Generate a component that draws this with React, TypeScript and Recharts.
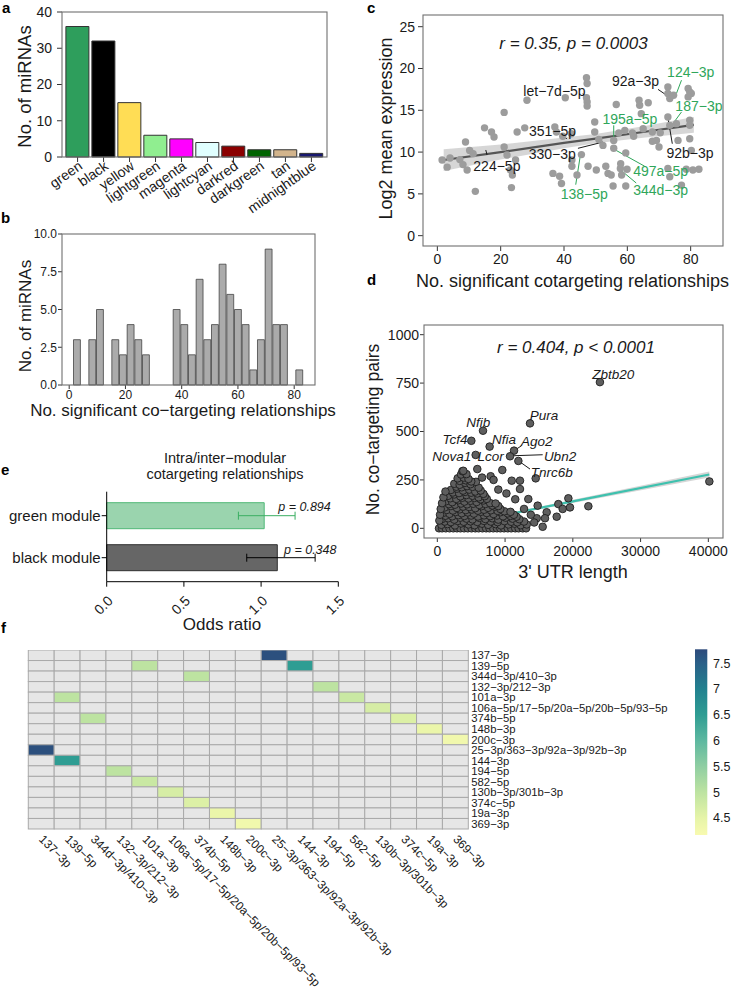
import React from "react";
import {
  BarChart,
  Bar,
  XAxis,
  YAxis,
  Cell,
  ComposedChart,
  ScatterChart,
  Scatter,
  Line,
  Area,
  ReferenceLine,
  ErrorBar,
} from "recharts";

const FONT = "'Liberation Sans', Arial, Helvetica, sans-serif";
const INK = "#1a1a1a";
const FRAME = "#707070";
const GREEN_TXT = "#2fa65a";

// ---- panel a: module sizes
const moduleNames = ["green", "black", "yellow", "lightgreen", "magenta", "lightcyan", "darkred", "darkgreen", "tan", "midnightblue"];
const moduleCounts = [36, 32, 15, 6, 5, 4, 3, 2, 2, 1];
const moduleFills = ["#2e9e5c", "#000000", "#ffdd55", "#90ee90", "#ff00ff", "#e0ffff", "#8b0000", "#006400", "#d2b48c", "#191970"];

// ---- panel b: histogram (30 bins)
const binMids = [2.89, 5.62, 8.35, 11.07, 13.8, 16.52, 19.25, 21.97, 24.7, 27.42, 30.15, 32.88, 35.6, 38.33, 41.05,
  43.78, 46.5, 49.23, 51.96, 54.68, 57.41, 60.13, 62.86, 65.58, 68.31, 71.04, 73.76, 76.49, 79.21, 81.94];
const binCounts = [3, 0, 3, 5, 0, 3, 2, 4, 3, 2, 0, 0, 0, 5, 4, 2, 7, 3, 4, 8, 6, 5, 4, 1, 3, 9, 4, 4, 0, 1];

// ---- panel c: expression vs cotargeting
const cPoints: [number, number][] = [
  [1.5, 9.05], [3.1, 8.2], [4.0, 9.3], [7.1, 9.1], [8.1, 8.5], [8.9, 11.2], [9.4, 7.85], [10.2, 10.2], [11.3, 9.8],
  [12.0, 5.3], [14.9, 12.9], [17.1, 12.4], [17.9, 11.8], [21.1, 14.75], [21.1, 10.6], [22.0, 9.65], [23.1, 7.85],
  [23.7, 7.25], [23.4, 5.75], [25.2, 12.4], [24.7, 9.05], [28.3, 16.2], [27.6, 12.9], [37.1, 13.0], [37.6, 12.4],
  [39.6, 11.9], [40.4, 16.5], [42.3, 12.2], [42.5, 9.05], [42.5, 8.3], [36.5, 7.45], [38.6, 7.1], [39.2, 6.25],
  [45.5, 9.7], [44.1, 7.25], [47.1, 18.9], [47.3, 18.2], [47.1, 16.5], [47.3, 16.0], [47.3, 15.5], [47.6, 8.3],
  [49.7, 13.6], [49.7, 12.4], [50.2, 7.85], [51.0, 11.5], [52.3, 10.8], [53.2, 8.3], [53.9, 7.45], [54.9, 7.25],
  [55.7, 11.4], [55.7, 10.45], [55.5, 5.95], [56.5, 15.7], [57.3, 12.3], [57.8, 8.05], [58.2, 7.25], [57.9, 8.6],
  [59.2, 12.6], [59.5, 5.95], [59.9, 7.95], [59.5, 9.9], [61.6, 12.3], [62.0, 11.9], [63.7, 16.2], [63.9, 15.6],
  [64.4, 14.6], [65.0, 12.8], [66.6, 15.9], [67.9, 12.4], [67.9, 11.3], [69.2, 11.4], [70.0, 10.6], [70.4, 12.3],
  [72.8, 17.8], [72.8, 17.0], [73.4, 16.4], [74.6, 16.8], [72.8, 14.2], [73.4, 13.2], [72.8, 8.05], [73.4, 7.05],
  [75.5, 13.4], [76.0, 11.4], [77.1, 6.05], [79.2, 17.6], [79.7, 17.2], [80.2, 17.0], [79.2, 16.6], [79.7, 13.8],
  [79.7, 13.2], [79.7, 11.6], [80.2, 10.2], [80.7, 7.85], [82.6, 7.95], [78.6, 7.95],
];
const cFitX = [2, 20, 40, 50, 65, 81];
const cFitY = [9.05, 10.0, 11.1, 11.6, 12.4, 13.25];
const cFitLo = [7.75, 9.1, 10.45, 11.05, 11.7, 12.3];
const cFitHi = [10.35, 10.9, 11.75, 12.15, 13.1, 14.2];
const cLabelText = ["let−7d−5p", "92a−3p", "124−3p", "187−3p", "92b−3p", "195a−5p", "497a−5p", "344d−3p", "138−5p", "351−5p", "330−3p", "224−5p"];
const cLabelX = [37.0, 62.6, 80.0, 82.6, 79.8, 60.8, 70.5, 70.5, 46.4, 36.4, 36.3, 18.8];
const cLabelY = [17.3, 18.5, 19.6, 15.5, 9.85, 13.95, 7.75, 5.5, 4.95, 12.55, 9.8, 8.3];
const cLabelGreen = [false, false, true, true, false, true, true, true, true, false, false, false];
const cLeaders: [number, number, number, number, boolean][] = [
  [46.0, 17.0, 47.2, 16.3, false], [69.7, 17.5, 72.8, 16.7, false], [77.1, 18.6, 75.5, 17.0, true],
  [77.1, 14.8, 74.4, 13.4, true], [72.8, 14.15, 74.2, 11.0, false], [55.7, 13.2, 55.7, 11.5, true],
  [56.0, 10.3, 65.5, 8.3, true], [58.4, 7.7, 62.8, 6.3, true], [45.2, 9.7, 43.7, 6.1, true],
  [39.5, 11.9, 40.9, 11.6, false], [44.4, 10.45, 52.3, 11.2, false], [15.3, 10.25, 15.7, 9.65, false],
];

// ---- panel d: co-targeting pairs vs 3' UTR length
const dPoints: [number, number][] = [
  [250, 0], [700, 0], [1250, 0], [1800, 0], [2350, 0], [2900, 0], [3400, 0], [3950, 0], [4500, 0], [5050, 0],
  [5600, 0], [6100, 0], [6650, 0], [7200, 0], [7700, 0], [8250, 0], [8800, 0], [9300, 0], [9850, 0], [10400, 0],
  [10900, 0], [11500, 0], [12000, 0], [12600, 0], [13100, 0],
  [600, 18], [1500, 22], [2600, 15], [3500, 25], [4600, 20], [5500, 16], [6600, 24], [7500, 18], [8600, 22],
  [9400, 15], [10500, 20], [11400, 24], [12300, 16], [13200, 20],
  [1100, 35], [2000, 32], [3000, 38], [3900, 34], [4900, 36], [5900, 33], [6900, 38], [7900, 35], [8900, 32],
  [9900, 37], [10900, 34], [11800, 31], [12800, 35],
  [700, 48], [1600, 52], [2500, 45], [3400, 55], [4300, 50], [5200, 46], [6200, 54], [7100, 48], [8100, 52],
  [9000, 45], [10100, 55], [11100, 50], [12100, 47],
  [1200, 65], [2200, 62], [3100, 68], [4000, 64], [5000, 66], [6000, 61], [6900, 67], [7800, 63], [8800, 66],
  [9700, 62], [10800, 64], [11700, 60],
  [900, 80], [1800, 75], [2700, 84], [3600, 78], [4500, 82], [5400, 76], [6400, 85], [7300, 79], [8300, 74],
  [9300, 83], [10400, 77], [11300, 70],
  [1400, 95], [2300, 92], [3300, 98], [4200, 94], [5100, 97], [6000, 91], [6900, 96], [7900, 93], [8900, 90],
  [9900, 88], [10800, 85],
  [1100, 108], [2000, 115], [2900, 105], [3800, 112], [4700, 110], [5600, 104], [6500, 114], [7500, 106],
  [8500, 112], [9300, 100],
  [1700, 125], [2600, 122], [3500, 128], [4400, 124], [5300, 127], [6200, 121], [7100, 126], [8100, 118], [9000, 115],
  [1300, 140], [2200, 135], [3100, 145], [4000, 138], [4900, 142], [5800, 136], [6800, 144], [7800, 130], [8600, 128],
  [1900, 155], [2800, 152], [3700, 158], [4600, 154], [5500, 157], [6400, 150], [7300, 152],
  [1600, 168], [2500, 175], [3400, 165], [4300, 172], [5200, 168], [6100, 160], [7000, 166],
  [2300, 185], [3200, 182], [4100, 188], [5000, 184], [5900, 180], [6800, 178],
  [2000, 198], [2900, 205], [3800, 195], [4700, 200], [5600, 190], [6400, 195],
  [2800, 215], [3600, 212], [4400, 218], [5200, 214], [6100, 210],
  [2500, 230], [3300, 225], [4100, 235], [4900, 228], [5700, 240],
  [3300, 245], [4200, 248], [5000, 242],
  [3000, 258], [3900, 262], [4600, 255], [3500, 278], [4300, 280], [3700, 295],
  [300, 40], [400, 70], [500, 100], [700, 130], [900, 160], [1200, 190],
  [3840, 297], [5900, 306], [9590, 301], [7870, 269], [6600, 262], [8300, 250], [10980, 246], [12200, 246],
  [14520, 258], [12200, 203], [13430, 151], [14810, 117], [16140, 83], [17860, 125], [17620, 60], [19340, 155],
  [19580, 108], [18500, 100], [22290, 114], [15550, 8], [15890, 52], [14670, 52], [40150, 242], [10200, 180],
  [9000, 200], [11500, 150], [12800, 100], [13800, 70], [14300, 30],
  [5020, 452], [6740, 504], [5660, 379], [7720, 422], [11320, 401], [10730, 372], [11960, 348], [13680, 542], [24000, 755],
];
const dFitX = [0, 5000, 20000, 40150];
const dFitY = [1, 35, 139, 278];
const dFitLo = [-4, 31, 131, 262];
const dFitHi = [6, 39, 147, 294];
const dGenes = ["Zbtb20", "Pura", "Nfib", "Tcf4", "Nfia", "Ago2", "Nova1", "Lcor", "Ubn2", "Tnrc6b"];
const dGeneX = [25980, 15740, 6050, 2610, 9840, 14660, 2120, 7870, 18110, 16880];
const dGeneY = [795, 582, 547, 458, 458, 452, 370, 370, 370, 289];
const dLeaders: [number, number, number, number][] = [
  [11320, 401, 12450, 427], [11320, 375, 15550, 380], [11960, 349, 13680, 306],
];

// ---- panel e: odds ratios
const eModules = ["green module", "black module"];
const eOdds = [1.02, 1.105];
const eLow = [0.853, 0.907];
const eHigh = [1.22, 1.35];
const ePvals = ["p = 0.894", "p = 0.348"];

// ---- panel f: heatmap
const mirLabels = ["137−3p", "139−5p", "344d−3p/410−3p", "132−3p/212−3p", "101a−3p", "106a−5p/17−5p/20a−5p/20b−5p/93−5p",
  "374b−5p", "148b−3p", "200c−3p", "25−3p/363−3p/92a−3p/92b−3p", "144−3p", "194−5p", "582−5p", "130b−3p/301b−3p",
  "374c−5p", "19a−3p", "369−3p"];
const heatRows = [0, 9, 1, 10, 1, 4, 2, 6, 3, 11, 4, 12, 5, 13, 6, 14, 7, 15, 8, 16];
const heatCols = [9, 0, 10, 1, 4, 1, 6, 2, 11, 3, 12, 4, 13, 5, 14, 6, 15, 7, 16, 8];
const heatVals = [7.7, 7.7, 6.5, 6.5, 5.0, 5.0, 5.0, 5.0, 5.0, 5.0, 4.85, 4.85, 4.7, 4.7, 4.62, 4.62, 4.4, 4.4, 4.3, 4.3];
const colorStops: [number, string][] = [
  [4.17, "#f8fab0"], [4.5, "#e6f4a8"], [5.0, "#bde3a1"], [5.5, "#8fcea2"], [6.0, "#5db8a0"],
  [6.5, "#2f9d93"], [7.0, "#22818f"], [7.5, "#2a6088"], [7.77, "#2d4a7b"],
];
const colorTicks = [4.5, 5, 5.5, 6, 6.5, 7, 7.5];

function hexToRgb(h: string) {
  return [1, 3, 5].map((i) => parseInt(h.slice(i, i + 2), 16));
}
function heatColor(v: number) {
  for (let i = 0; i < colorStops.length - 1; i++) {
    const [v0, c0] = colorStops[i];
    const [v1, c1] = colorStops[i + 1];
    if (v <= v1) {
      const t = Math.max(0, (v - v0) / (v1 - v0));
      const a = hexToRgb(c0), b = hexToRgb(c1);
      return `rgb(${a.map((x, k) => Math.round(x + (b[k] - x) * t)).join(",")})`;
    }
  }
  return colorStops[colorStops.length - 1][1];
}

const tickStyle = (size: number) => ({ fontSize: size, fill: INK, fontFamily: FONT });

// ---------- panel a
const aData = moduleNames.map((name, i) => ({ name, count: moduleCounts[i] }));
const ModuleTick = (p: any) => (
  <g transform={`translate(${p.x},${p.y - 2})`}>
    <text dy="0.71em" textAnchor="end" transform="rotate(-35)" fontSize={14} fill={INK} fontFamily={FONT}>
      {p.payload.value}
    </text>
  </g>
);
function PanelA() {
  return (
    <div style={{ position: "absolute", left: 0, top: 0 }}>
      <BarChart width={340} height={232} data={aData} margin={{ top: 12, right: 13, bottom: 0, left: 0 }} barCategoryGap="5%">
        <XAxis dataKey="name" interval={0} height={75} padding={{ left: 2.6, right: 2.6 }} axisLine={false}
          tickSize={5} tickMargin={0} tickLine={{ stroke: "#333" }} tick={ModuleTick} />
        <YAxis type="number" domain={[0, 40]} ticks={[0, 10, 20, 30, 40]} width={62} axisLine={false}
          tickSize={5} tickMargin={5} tickLine={{ stroke: "#333" }} tick={tickStyle(14)} />
        <Bar dataKey="count" stroke="#333" strokeWidth={1} isAnimationActive={false}>
          {aData.map((d, i) => <Cell key={d.name} fill={moduleFills[i]} />)}
        </Bar>
      </BarChart>
    </div>
  );
}

// ---------- panel b
const bData = binMids.map((mid, i) => ({ mid, n: binCounts[i] }));
function PanelB() {
  return (
    <div style={{ position: "absolute", left: 0, top: 220 }}>
      <BarChart width={330} height={190} data={bData} margin={{ top: 14, right: 15, bottom: 0, left: 0 }}>
        <XAxis type="number" dataKey="mid" domain={[-2.56, 87.4]} ticks={[0, 20, 40, 60, 80]} allowDataOverflow height={25}
          axisLine={false} tickSize={4} tickMargin={1} tickLine={{ stroke: "#333" }} tick={tickStyle(12)} />
        <YAxis type="number" domain={[0, 10]} ticks={[0, 2.5, 5, 7.5, 10]} tickFormatter={(v: number) => v.toFixed(1)}
          width={62} axisLine={false} tickSize={4} tickMargin={1} tickLine={{ stroke: "#333" }} tick={tickStyle(12)} />
        <Bar dataKey="n" fill="#ababab" stroke="#444" strokeWidth={0.8} barSize={7.67} isAnimationActive={false} />
      </BarChart>
    </div>
  );
}

// ---------- panel c
const cFit = cFitX.map((x, i) => ({ x, fit: cFitY[i], band: [cFitLo[i], cFitHi[i]] }));
const cPts = cPoints.map(([x, y]) => ({ x, y }));
const cLabelData = cLabelText.map((t, i) => ({ x: cLabelX[i], y: cLabelY[i], t, col: cLabelGreen[i] ? GREEN_TXT : INK }));
const GreyDot = (p: any) => <circle cx={p.cx} cy={p.cy} r={3.7} fill="#9c9c9c" />;
const CLabel = (p: any) => (
  <text x={p.cx} y={p.cy} dy="0.35em" textAnchor="middle" fontSize={14} fill={p.payload.col} fontFamily={FONT}>
    {p.payload.t}
  </text>
);
function PanelC() {
  return (
    <div style={{ position: "absolute", left: 360, top: 0 }}>
      <ComposedChart width={374} height={280} data={cFit} margin={{ top: 15, right: 11, bottom: 4, left: 0 }}>
        <XAxis type="number" dataKey="x" domain={[-4.53, 90.21]} ticks={[0, 20, 40, 60, 80]} allowDataOverflow height={30}
          axisLine={false} tickSize={5} tickMargin={3} tickLine={{ stroke: "#333" }} tick={tickStyle(14)} />
        <YAxis type="number" domain={[-1.236, 26.4]} ticks={[0, 5, 10, 15, 20, 25]} allowDataOverflow width={63}
          axisLine={false} tickSize={5} tickMargin={3} tickLine={{ stroke: "#333" }} tick={tickStyle(14)} />
        <Area type="linear" dataKey="band" stroke="none" fill="#c4c4c4" fillOpacity={0.7} isAnimationActive={false} />
        <Scatter data={cPts} dataKey="y" shape={GreyDot} isAnimationActive={false} />
        <Line type="linear" dataKey="fit" stroke="#555" strokeWidth={2.2} dot={false} isAnimationActive={false} />
        {cLeaders.map((l, i) => (
          <ReferenceLine key={i} segment={[{ x: l[0], y: l[1] }, { x: l[2], y: l[3] }]}
            stroke={l[4] ? GREEN_TXT : INK} strokeWidth={1} ifOverflow="visible" />
        ))}
        <Scatter data={cLabelData} dataKey="y" shape={CLabel} isAnimationActive={false} />
      </ComposedChart>
    </div>
  );
}

// ---------- panel d
const dFit = dFitX.map((x, i) => ({ x, fit: dFitY[i], band: [dFitLo[i], dFitHi[i]] }));
const dPts = dPoints.map(([x, y]) => ({ x, y }));
const dLabelData = dGenes.map((t, i) => ({ x: dGeneX[i], y: dGeneY[i], t }));
const DarkDot = (p: any) => <circle cx={p.cx} cy={p.cy} r={3.8} fill="#5e5e5e" stroke="#1e1e1e" strokeWidth={0.9} />;
const DLabel = (p: any) => (
  <text x={p.cx} y={p.cy} dy="0.35em" textAnchor="middle" fontSize={13.5} fontStyle="italic" fill={INK} fontFamily={FONT}>
    {p.payload.t}
  </text>
);
function PanelD() {
  return (
    <div style={{ position: "absolute", left: 360, top: 290 }}>
      <ComposedChart width={374} height={290} data={dFit} margin={{ top: 35, right: 11, bottom: 12, left: 0 }}>
        <XAxis type="number" dataKey="x" domain={[-1967, 42165]} ticks={[0, 10000, 20000, 30000, 40000]} allowDataOverflow
          height={30} axisLine={false} tickSize={4} tickMargin={4} tickLine={{ stroke: "#333" }} tick={tickStyle(14)} />
        <YAxis type="number" domain={[-50, 1050]} ticks={[0, 250, 500, 750, 1000]} allowDataOverflow width={64}
          axisLine={false} tickSize={4} tickMargin={1} tickLine={{ stroke: "#333" }} tick={tickStyle(14)} />
        <Scatter data={dPts} dataKey="y" shape={DarkDot} isAnimationActive={false} />
        <Area type="linear" dataKey="band" stroke="none" fill="#bbbbbb" fillOpacity={0.6} isAnimationActive={false} />
        <Line type="linear" dataKey="fit" stroke="#3ec1ae" strokeWidth={2.2} dot={false} isAnimationActive={false} />
        {dLeaders.map((l, i) => (
          <ReferenceLine key={i} segment={[{ x: l[0], y: l[1] }, { x: l[2], y: l[3] }]} stroke={INK} strokeWidth={1} ifOverflow="visible" />
        ))}
        <Scatter data={dLabelData} dataKey="y" shape={DLabel} isAnimationActive={false} />
      </ComposedChart>
    </div>
  );
}

// ---------- panel e
const eData = eModules.map((name, i) => ({
  name,
  green: i === 0 ? eOdds[i] : null,
  black: i === 1 ? eOdds[i] : null,
  gErr: i === 0 ? [eOdds[i] - eLow[i], eHigh[i] - eOdds[i]] : undefined,
  bErr: i === 1 ? [eOdds[i] - eLow[i], eHigh[i] - eOdds[i]] : undefined,
}));
const OddsTick = (p: any) => (
  <g transform={`translate(${p.x},${p.y + 6})`}>
    <text dy="0.71em" textAnchor="end" transform="rotate(-45)" fontSize={14} fill={INK} fontFamily={FONT}>
      {Number(p.payload.value).toFixed(1)}
    </text>
  </g>
);
function PanelE() {
  return (
    <div style={{ position: "absolute", left: 0, top: 480 }}>
      <BarChart layout="vertical" width={360} height={140} data={eData} barSize={26} barGap={-26}
        margin={{ top: 11.7, right: 21.7, bottom: 8.3, left: 0 }}>
        <XAxis type="number" domain={[0, 1.5]} ticks={[0, 0.5, 1, 1.5]} height={30} axisLine={{ stroke: "#000" }}
          tickLine={{ stroke: "#000" }} tickSize={5} tickMargin={2} tick={OddsTick} />
        <YAxis type="category" dataKey="name" width={106.7} padding={{ top: 3, bottom: 3 }} axisLine={{ stroke: "#000" }}
          tickLine={{ stroke: "#000" }} tickSize={5} tickMargin={1} tick={tickStyle(15)} />
        <Bar dataKey="green" fill="#9ad4ae" stroke="#4fb877" strokeWidth={1} isAnimationActive={false}>
          <ErrorBar dataKey="gErr" direction="x" width={4} stroke="#3aae62" strokeWidth={1} />
        </Bar>
        <Bar dataKey="black" fill="#666666" stroke="#303030" strokeWidth={1} isAnimationActive={false}>
          <ErrorBar dataKey="bErr" direction="x" width={4} stroke="#000" strokeWidth={1} />
        </Bar>
      </BarChart>
    </div>
  );
}

// ---------- panel f
const CELL_W = 440 / 17;
const CELL_H = 179 / 17;
const heatData: { x: number; y: number; fill: string }[] = [];
mirLabels.forEach((_, r) => {
  mirLabels.forEach((__, c) => {
    const k = heatRows.findIndex((rr, j) => rr === r && heatCols[j] === c);
    heatData.push({ x: c + 0.5, y: r + 0.5, fill: k >= 0 ? heatColor(heatVals[k]) : "#e6e6e6" });
  });
});
const centers = mirLabels.map((_, i) => i + 0.5);
const HeatCell = (p: any) => (
  <rect x={p.cx - CELL_W / 2} y={p.cy - CELL_H / 2} width={CELL_W} height={CELL_H} fill={p.payload.fill}
    stroke="#a9a9a9" strokeWidth={1} />
);
const ColTick = (p: any) => (
  <g transform={`translate(${p.x},${p.y + 8})`}>
    <text dy="0.35em" textAnchor="start" transform="rotate(45)" fontSize={12} fill={INK} fontFamily={FONT}>
      {mirLabels[Math.floor(p.payload.value)]}
    </text>
  </g>
);
function PanelF() {
  return (
    <div style={{ position: "absolute", left: 0, top: 650 }}>
      <ScatterChart width={690} height={339} margin={{ top: 0, right: 0, bottom: 0, left: 28.3 }}>
        <XAxis type="number" dataKey="x" domain={[0, 17]} ticks={centers} interval={0} height={160} axisLine={false}
          tickLine={false} tickSize={0} tickMargin={0} tick={ColTick} />
        <YAxis type="number" dataKey="y" domain={[0, 17]} reversed orientation="right" ticks={centers} interval={0}
          width={221.7} axisLine={false} tickLine={false} tickSize={0} tickMargin={3}
          tickFormatter={(v: number) => mirLabels[Math.floor(v)]} tick={tickStyle(11.3)} />
        <Scatter data={heatData} shape={HeatCell} isAnimationActive={false} />
      </ScatterChart>
    </div>
  );
}

// ---------- frames, titles, annotations, colour bar
const CB = { x: 695, y0: 649.3, y1: 835, w: 12.3 };
const cbY = (v: number) => CB.y1 - ((v - 4.17) / (7.77 - 4.17)) * (CB.y1 - CB.y0);
function VTitle({ x, y, size, children }: any) {
  return (
    <text transform={`translate(${x},${y}) rotate(-90)`} dy="0.35em" textAnchor="middle" fontSize={size} fill={INK}>
      {children}
    </text>
  );
}
function Overlay() {
  return (
    <svg width={734} height={989} style={{ position: "absolute", left: 0, top: 0, pointerEvents: "none" }} fontFamily={FONT}>
      <defs>
        <linearGradient id="cbar" x1="0" y1="1" x2="0" y2="0">
          {colorStops.map(([v, c]) => (
            <stop key={v} offset={(v - 4.17) / (7.77 - 4.17)} stopColor={c} />
          ))}
        </linearGradient>
      </defs>
      <rect x={62} y={12} width={265} height={145} fill="none" stroke={FRAME} strokeWidth={1.1} />
      <rect x={62} y={234} width={253} height={151} fill="none" stroke={FRAME} strokeWidth={1.1} />
      <rect x={423} y={15} width={300} height={231} fill="none" stroke={FRAME} strokeWidth={1.1} />
      <rect x={424} y={325} width={299} height={213} fill="none" stroke={FRAME} strokeWidth={1.1} />

      <g fontSize={15} fontWeight="bold" fill="#000">
        <text x={2} y={13}>a</text>
        <text x={1} y={223}>b</text>
        <text x={367} y={13}>c</text>
        <text x={367} y={285}>d</text>
        <text x={1} y={475}>e</text>
        <text x={1} y={633}>f</text>
      </g>

      <VTitle x={25} y={86.5} size={18.5}>No. of miRNAs</VTitle>
      <VTitle x={25.5} y={316} size={17}>No. of miRNAs</VTitle>
      <text x={183} y={416} textAnchor="middle" fontSize={17} fill={INK}>No. significant co−targeting relationships</text>

      <VTitle x={386} y={128.5} size={18}>Log2 mean expression</VTitle>
      <text x={572.5} y={287} textAnchor="middle" fontSize={18} fill={INK}>No. significant cotargeting relationships</text>
      <text x={573.5} y={49} textAnchor="middle" fontSize={17} fontStyle="italic" fill={INK}>r = 0.35, p = 0.0003</text>

      <VTitle x={372.5} y={429.5} size={17.5}>No. co−targeting pairs</VTitle>
      <text x={573} y={578} textAnchor="middle" fontSize={18} fill={INK}>3' UTR length</text>
      <text x={576} y={353} textAnchor="middle" fontSize={17} fontStyle="italic" fill={INK}>{"r = 0.404, p < 0.0001"}</text>

      <text x={225} y={463} textAnchor="middle" fontSize={14.5} fill={INK}>Intra/inter−modular</text>
      <text x={225} y={479} textAnchor="middle" fontSize={14.5} fill={INK}>cotargeting relationships</text>
      <text x={222} y={630} textAnchor="middle" fontSize={17} fill={INK}>Odds ratio</text>
      <text x={278.3} y={510.7} fontSize={12.5} fontStyle="italic" fill={INK}>{ePvals[0]}</text>
      <text x={284} y={554} fontSize={12.5} fontStyle="italic" fill={INK}>{ePvals[1]}</text>

      <rect x={CB.x} y={CB.y0} width={CB.w} height={CB.y1 - CB.y0} fill="url(#cbar)" />
      {colorTicks.map((v) => (
        <text key={v} x={713} y={cbY(v)} dy="0.35em" fontSize={12.5} fill={INK}>{String(v)}</text>
      ))}
    </svg>
  );
}

export default function App() {
  return (
    <div style={{ position: "absolute", left: 0, top: 0, width: 734, height: 989, background: "#fff", fontFamily: FONT, overflow: "hidden" }}>
      <PanelA />
      <PanelB />
      <PanelC />
      <PanelD />
      <PanelE />
      <PanelF />
      <Overlay />
    </div>
  );
}
